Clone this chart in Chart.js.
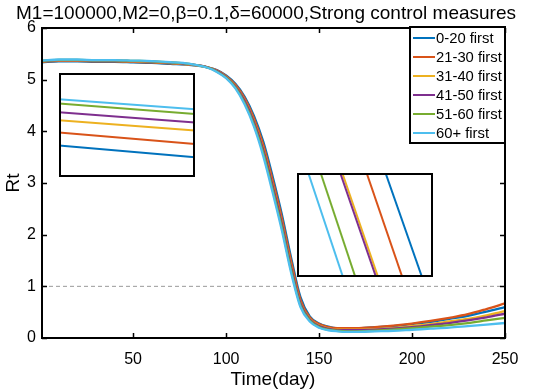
<!DOCTYPE html>
<html>
<head>
<meta charset="utf-8">
<script src="https://cdn.jsdelivr.net/npm/chart.js@4"></script>
<style>
  html,body{margin:0;padding:0;background:#fff;}
  #wrap{position:relative;width:536px;height:391px;}
  canvas{position:absolute;}
</style>
</head>
<body>
<div id="wrap">
  <canvas id="main" width="536" height="391" style="left:0;top:0"></canvas>
  <canvas id="ins1" width="136" height="104" style="left:59px;top:73px"></canvas>
  <canvas id="ins2" width="136" height="104" style="left:297px;top:173px"></canvas>
</div>
<script>
// ---------- data ----------
const titleText = "M1=100000,M2=0,\u03b2=0.1,\u03b4=60000,Strong control measures";
const xLabel = "Time(day)";
const yLabel = "Rt";
const seriesNames = ["0-20 first","21-30 first","31-40 first","41-50 first","51-60 first","60+ first"];
const xTicks = [50,100,150,200,250];
const yTicks = [0,1,2,3,4,5,6];
const threshold = 1;

const days = [1,10,20,30,40,50,60,70,80,90,95,100,105,110,115,120,125,130,135,140,145,150,155,160,165,170,180,190,200,210,220,230,240,250];

const rt_0_20  = [5.335,5.355,5.355,5.345,5.345,5.335,5.325,5.305,5.285,5.24,5.185,5.08,4.92,4.67,4.30,3.80,3.13,2.39,1.55,0.79,0.42,0.28,0.22,0.19,0.19,0.19,0.21,0.23,0.27,0.31,0.37,0.43,0.51,0.60];
const rt_21_30 = [5.345,5.365,5.365,5.355,5.355,5.345,5.335,5.315,5.29,5.24,5.18,5.07,4.90,4.64,4.25,3.74,3.06,2.32,1.48,0.74,0.40,0.27,0.21,0.19,0.19,0.19,0.21,0.24,0.28,0.33,0.39,0.46,0.56,0.67];
const rt_31_40 = [5.355,5.375,5.375,5.365,5.365,5.355,5.345,5.325,5.295,5.24,5.17,5.055,4.875,4.60,4.19,3.66,2.97,2.23,1.39,0.68,0.37,0.24,0.19,0.16,0.16,0.16,0.17,0.19,0.23,0.27,0.32,0.37,0.44,0.52];
const rt_41_50 = [5.36,5.38,5.38,5.37,5.37,5.36,5.35,5.33,5.30,5.24,5.17,5.05,4.87,4.59,4.18,3.64,2.95,2.21,1.37,0.67,0.36,0.23,0.18,0.15,0.15,0.15,0.16,0.18,0.21,0.25,0.29,0.34,0.40,0.47];
const rt_51_60 = [5.365,5.385,5.385,5.375,5.375,5.365,5.355,5.335,5.305,5.235,5.16,5.04,4.85,4.55,4.13,3.58,2.88,2.14,1.31,0.63,0.34,0.21,0.16,0.14,0.13,0.13,0.14,0.16,0.19,0.22,0.25,0.29,0.34,0.39];
const rt_60p   = [5.37,5.39,5.39,5.38,5.38,5.37,5.36,5.34,5.31,5.23,5.15,5.03,4.83,4.52,4.09,3.52,2.82,2.08,1.26,0.60,0.32,0.20,0.15,0.13,0.12,0.12,0.13,0.14,0.16,0.18,0.20,0.23,0.26,0.29];
const allSeries = [rt_0_20, rt_21_30, rt_31_40, rt_41_50, rt_51_60, rt_60p];

// inset 1 (zoom of early plateau): x = day, y = Rt
const inset1Days = [20, 60];
const inset1Range = [5.30, 5.40];
const inset1Vals = [
  [5.3302, 5.3189],
  [5.3427, 5.3317],
  [5.3545, 5.3446],
  [5.3622, 5.3523],
  [5.3706, 5.3606],
  [5.3747, 5.3651]
];
// inset 2 (zoom of the steep decline): each line from (dayTop, top) to (dayBottom, bottom)
const inset2DayRange = [131, 133];
const inset2Range = [1.8, 2.2];
const inset2DayTop    = [132.302, 132.024, 131.666, 131.636, 131.348, 131.166];
const inset2DayBottom = [132.838, 132.548, 132.192, 132.162, 131.858, 131.676];

// ---------- styles ----------
const colors = ["#0072BD","#D95319","#EDB120","#7E2F8E","#77AC30","#4DBEEE"];
const FONT = "'Liberation Sans', Arial, sans-serif";

// ---------- main chart ----------
const datasets = allSeries.map((vals, i) => ({
  label: seriesNames[i],
  data: days.map((d, k) => ({x: d, y: vals[k]})),
  borderColor: colors[i],
  borderWidth: 2.3,
  pointRadius: 0,
  fill: false,
  cubicInterpolationMode: 'monotone',
  order: 5 - i
}));
datasets.push({
  label: 'threshold',
  data: [{x: days[0], y: threshold}, {x: days[days.length-1], y: threshold}],
  borderColor: '#999999',
  borderWidth: 1,
  borderDash: [4, 3],
  pointRadius: 0,
  order: 20
});

const framePlugin = {
  id: 'frame',
  afterDraw(chart) {
    const {ctx, chartArea: a, scales} = chart;
    ctx.save();
    ctx.strokeStyle = '#000';
    ctx.lineWidth = 2;
    ctx.strokeRect(a.left, a.top, a.right - a.left, a.bottom - a.top);
    ctx.lineWidth = 1.5;
    const tl = 5;
    ctx.beginPath();
    xTicks.forEach(v => {
      const px = Math.round(scales.x.getPixelForValue(v)) + 0.5;
      ctx.moveTo(px, a.bottom); ctx.lineTo(px, a.bottom - tl);
      ctx.moveTo(px, a.top); ctx.lineTo(px, a.top + tl);
    });
    yTicks.forEach(v => {
      const py = Math.round(scales.y.getPixelForValue(v)) + 0.5;
      ctx.moveTo(a.left, py); ctx.lineTo(a.left + tl, py);
      ctx.moveTo(a.right, py); ctx.lineTo(a.right - tl, py);
    });
    ctx.stroke();

    // legend
    const lx = 410, ly = 27, lw = 95, lh = 116;
    ctx.fillStyle = '#fff';
    ctx.fillRect(lx, ly, lw, lh);
    ctx.lineWidth = 2;
    ctx.strokeStyle = '#000';
    ctx.strokeRect(lx, ly, lw, lh);
    ctx.font = '14.8px ' + FONT;
    ctx.textBaseline = 'middle';
    ctx.textAlign = 'left';
    seriesNames.forEach((n, i) => {
      const y = ly + 11 + i * 19;
      ctx.strokeStyle = colors[i];
      ctx.lineWidth = 2;
      ctx.beginPath(); ctx.moveTo(lx + 3, y); ctx.lineTo(lx + 25, y); ctx.stroke();
      ctx.fillStyle = '#000';
      ctx.fillText(n, lx + 26, y + 1);
    });

    // titles
    ctx.fillStyle = '#000';
    ctx.textAlign = 'center';
    ctx.textBaseline = 'middle';
    ctx.font = '19px ' + FONT;
    ctx.fillText(titleText, 266, 14);
    ctx.fillText(xLabel, 273, 380);
    ctx.save();
    ctx.translate(14, 183);
    ctx.rotate(-Math.PI / 2);
    ctx.fillText(yLabel, 0, 0);
    ctx.restore();
    ctx.restore();
  }
};

new Chart(document.getElementById('main'), {
  type: 'line',
  data: {datasets},
  options: {
    responsive: false,
    animation: false,
    devicePixelRatio: 1,
    layout: {padding: {top: 28, right: 31, left: 0, bottom: 0}},
    plugins: {legend: {display: false}, title: {display: false}, tooltip: {enabled: false}},
    scales: {
      x: {
        type: 'linear', min: 1, max: 250,
        grid: {display: false, drawTicks: false}, border: {display: false},
        afterBuildTicks: s => { s.ticks = xTicks.map(v => ({value: v})); },
        afterFit: s => { s.height = 53; },
        ticks: {color: '#000', font: {family: FONT, size: 16}, padding: 12, maxRotation: 0, autoSkip: false}
      },
      y: {
        type: 'linear', min: 0, max: 6,
        grid: {display: false, drawTicks: false}, border: {display: false},
        afterBuildTicks: s => { s.ticks = yTicks.map(v => ({value: v})); },
        afterFit: s => { s.width = 42; },
        ticks: {color: '#000', font: {family: FONT, size: 16}, padding: 6}
      }
    }
  },
  plugins: [framePlugin]
});

// ---------- insets ----------
const insetFrame = {
  id: 'insetFrame',
  beforeDraw(chart) {
    const {ctx, width, height} = chart;
    ctx.save(); ctx.fillStyle = '#fff'; ctx.fillRect(0, 0, width, height); ctx.restore();
  },
  afterDraw(chart) {
    const {ctx, width, height} = chart;
    ctx.save(); ctx.strokeStyle = '#000'; ctx.lineWidth = 2;
    ctx.strokeRect(1, 1, width - 2, height - 2); ctx.restore();
  }
};
function insetOptions(xr, yr) {
  return {
    responsive: false, animation: false, devicePixelRatio: 1,
    layout: {padding: 0},
    plugins: {legend: {display: false}, tooltip: {enabled: false}},
    scales: {
      x: {type: 'linear', min: xr[0], max: xr[1], display: false},
      y: {type: 'linear', min: yr[0], max: yr[1], display: false}
    }
  };
}
new Chart(document.getElementById('ins1'), {
  type: 'line',
  data: {datasets: inset1Vals.map((v, i) => ({
    data: [{x: inset1Days[0], y: v[0]}, {x: inset1Days[1], y: v[1]}],
    borderColor: colors[i], borderWidth: 2, pointRadius: 0, order: 5 - i
  }))},
  options: insetOptions(inset1Days, inset1Range),
  plugins: [insetFrame]
});
new Chart(document.getElementById('ins2'), {
  type: 'line',
  data: {datasets: inset2DayTop.map((d, i) => ({
    data: [{x: d, y: inset2Range[1]}, {x: inset2DayBottom[i], y: inset2Range[0]}],
    borderColor: colors[i], borderWidth: 2, pointRadius: 0, order: 5 - i
  }))},
  options: insetOptions(inset2DayRange, inset2Range),
  plugins: [insetFrame]
});
</script>
</body>
</html>
